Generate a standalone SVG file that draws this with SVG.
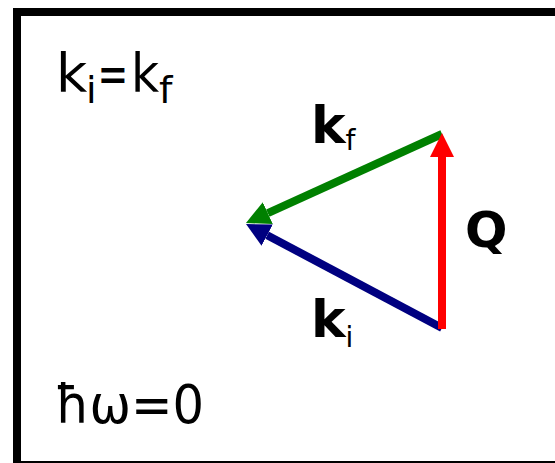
<svg xmlns="http://www.w3.org/2000/svg" width="555" height="463" viewBox="0 0 555 463">
<style>
.lbl{font-family:"DejaVu Sans",sans-serif;fill:#000}
.b{font-weight:bold}
.big{font-size:54px}
.sub{font-size:38px}
.vec{fill:none;stroke-width:8;stroke-linecap:butt}
</style>
<defs>
<marker id="hg" markerUnits="userSpaceOnUse" markerWidth="26" markerHeight="26" viewBox="0 -13 26 26" refX="0" refY="0" orient="auto"><path d="M0,-12 L24,0 L0,12 z" fill="#008000"/></marker>
<marker id="hb" markerUnits="userSpaceOnUse" markerWidth="26" markerHeight="26" viewBox="0 -13 26 26" refX="0" refY="0" orient="auto"><path d="M0,-12 L24,0 L0,12 z" fill="#000080"/></marker>
<marker id="hr" markerUnits="userSpaceOnUse" markerWidth="26" markerHeight="26" viewBox="0 -13 26 26" refX="0" refY="0" orient="auto"><path d="M0,-12 L24,0 L0,12 z" fill="#ff0000"/></marker>
</defs>
<rect x="0" y="0" width="555" height="463" fill="#fff"/>
<rect id="frame" x="17" y="12" width="560" height="453" fill="none" stroke="#000" stroke-width="8"/>
<g id="connectors">
<line id="ki" class="vec" x1="442" y1="328" x2="267.2" y2="235.2" stroke="#000080" marker-end="url(#hb)"/>
<line id="kf" class="vec" x1="442" y1="134" x2="267.8" y2="213.1" stroke="#008000" marker-end="url(#hg)"/>
<line id="Q" class="vec" x1="442" y1="329" x2="442" y2="157" stroke="#ff0000" marker-end="url(#hr)"/>
</g>
<g id="label-eq">
<text class="lbl big" x="56" y="92">k</text>
<text class="lbl sub" x="86" y="103">i</text>
<text class="lbl big" transform="translate(97.5,92) scale(0.68,1)">=</text>
<text class="lbl big" transform="translate(131,92) scale(0.9,1)">k</text>
<text class="lbl sub" x="159" y="103">f</text>
</g>
<g id="label-hw"><text class="lbl" x="55" y="423" font-size="53" textLength="149" lengthAdjust="spacingAndGlyphs">ħω=0</text></g>
<g id="label-kf"><text class="lbl" x="311" y="143" font-size="52"><tspan class="b">k</tspan><tspan font-size="28" dy="7">f</tspan></text></g>
<g id="label-ki"><text class="lbl" x="311" y="337" font-size="52"><tspan class="b">k</tspan><tspan font-size="28" dy="10">i</tspan></text></g>
<g id="label-Q"><text class="lbl b" x="465" y="247" font-size="50">Q</text></g>
</svg>
